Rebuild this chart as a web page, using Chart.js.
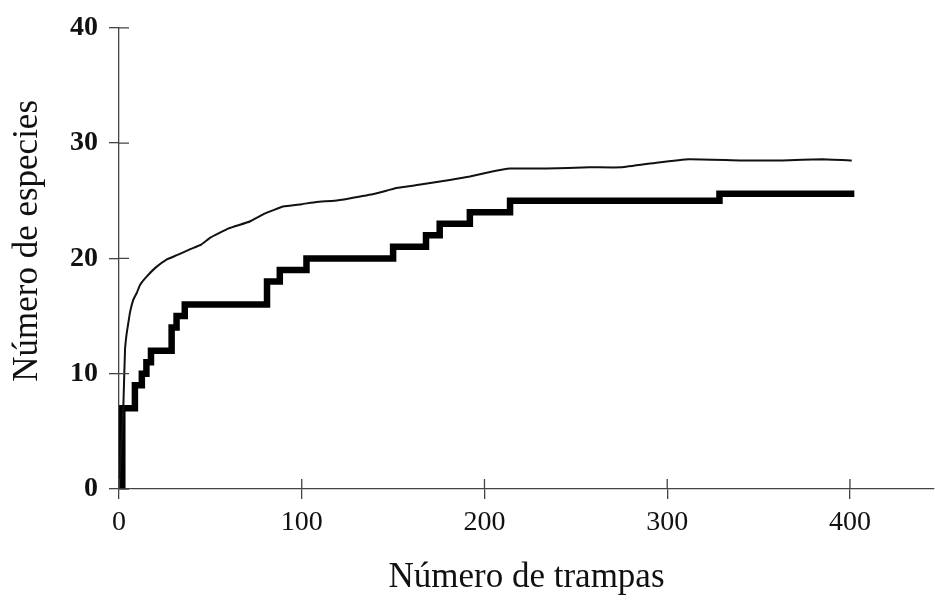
<!DOCTYPE html>
<html>
<head>
<meta charset="utf-8">
<script src="https://cdn.jsdelivr.net/npm/chart.js@4.4.1/dist/chart.umd.min.js"></script>
<style>
  html, body { margin: 0; padding: 0; background: #fff; }
  #wrap { width: 935px; height: 602px; }
</style>
</head>
<body>
<div id="wrap"><canvas id="curve-chart" width="935" height="602"></canvas></div>
<script>
// Curva suavizada (media de aleatorizaciones)
var meanTraps = [0, 1, 2, 2.4, 3.3, 4.2, 5.1, 6, 7.8, 9.7, 11.5, 15, 20, 26, 32, 39, 45, 50, 60, 71.6, 80, 89.8, 100, 108, 118, 126, 140, 151.8, 165, 181, 192, 203, 214, 234, 257.5, 275, 294, 312, 340, 363, 385, 401];
var meanSpecies = [0, 3, 6, 7.3, 12.1, 13.5, 14.4, 15.3, 16.4, 17.0, 17.7, 18.4, 19.2, 19.9, 20.3, 20.8, 21.2, 21.8, 22.6, 23.2, 23.9, 24.5, 24.7, 24.9, 25.0, 25.2, 25.6, 26.1, 26.4, 26.8, 27.1, 27.5, 27.8, 27.8, 27.9, 27.9, 28.3, 28.6, 28.5, 28.5, 28.6, 28.5];

// Curva observada (escalones)
var obsTraps = [0, 1.8, 8.7, 12.5, 15, 17.5, 28.8, 31.5, 36, 81, 88, 102.6, 150, 168, 175.5, 192, 214, 328.6, 402.4];
var obsSpecies = [0, 7, 9, 10, 11, 12, 14, 15, 16, 18, 19, 20, 21, 22, 23, 24, 25, 25.6, 25.6];

var xTicks = [0, 100, 200, 300, 400];
var yTicks = [0, 10, 20, 30, 40];

function toPoints(xs, ys) {
    return xs.map(function (x, i) { return {x: x, y: ys[i]}; });
}

// ticks that cross the axis line (inner half)
var innerTicks = {
    id: 'innerTicks',
    afterDraw: function (chart) {
        var ctx = chart.ctx, xs = chart.scales.x, ys = chart.scales.y;
        ctx.save();
        ctx.strokeStyle = '#444';
        ctx.lineWidth = 1.3;
        ctx.beginPath();
        xTicks.forEach(function (v) {
            var px = xs.getPixelForValue(v);
            ctx.moveTo(px, xs.top);
            ctx.lineTo(px, xs.top - 10);
        });
        yTicks.forEach(function (v) {
            var py = ys.getPixelForValue(v);
            ctx.moveTo(ys.right, py);
            ctx.lineTo(ys.right + 10, py);
        });
        ctx.stroke();
        ctx.restore();
    }
};

var serif = 'Liberation Serif';

var ctx = document.getElementById('curve-chart').getContext('2d');
var chart = new Chart(ctx, {
    type: 'line',
    data: {
        datasets: [{
            label: 'Media',
            data: toPoints(meanTraps, meanSpecies),
            borderColor: '#111',
            borderWidth: 2,
            pointRadius: 0,
            tension: 0.1,
            fill: false
        }, {
            label: 'Observado',
            data: toPoints(obsTraps, obsSpecies),
            borderColor: '#000',
            borderWidth: 6.5,
            pointRadius: 0,
            stepped: 'before',
            fill: false
        }]
    },
    options: {
        responsive: false,
        animation: false,
        layout: {padding: {top: 20, right: 1, left: 0, bottom: 0}},
        plugins: {
            legend: {display: false},
            tooltip: {enabled: false}
        },
        scales: {
            x: {
                type: 'linear',
                min: 0,
                max: 446,
                afterFit: function (s) { s.height = 113; },
                afterBuildTicks: function (s) {
                    s.ticks = xTicks.map(function (v) { return {value: v}; });
                },
                border: {display: true, color: '#444', width: 1.3},
                grid: {drawOnChartArea: false, tickLength: 10, color: '#444', lineWidth: 1.3},
                ticks: {
                    color: '#111',
                    padding: 7,
                    maxRotation: 0,
                    font: {family: serif, size: 28}
                },
                title: {
                    display: true,
                    text: 'Número de trampas',
                    color: '#111',
                    padding: {top: 0, bottom: 3},
                    font: {family: serif, size: 35}
                }
            },
            y: {
                min: 0,
                max: 40,
                afterFit: function (s) { s.width = 119; },
                afterBuildTicks: function (s) {
                    s.ticks = yTicks.map(function (v) { return {value: v}; });
                },
                border: {display: true, color: '#444', width: 1.3},
                grid: {drawOnChartArea: false, tickLength: 10, color: '#444', lineWidth: 1.3},
                ticks: {
                    color: '#111',
                    padding: 11,
                    font: {family: serif, size: 28, weight: 'bold'}
                },
                title: {
                    display: true,
                    // leading spaces push the label a little towards the top, as in the original
                    text: '\u00a0\u00a0\u00a0\u00a0Número de especies',
                    color: '#111',
                    padding: {top: 7, bottom: 0},
                    font: {family: serif, size: 35}
                }
            }
        }
    },
    plugins: [innerTicks]
});
</script>
</body>
</html>
